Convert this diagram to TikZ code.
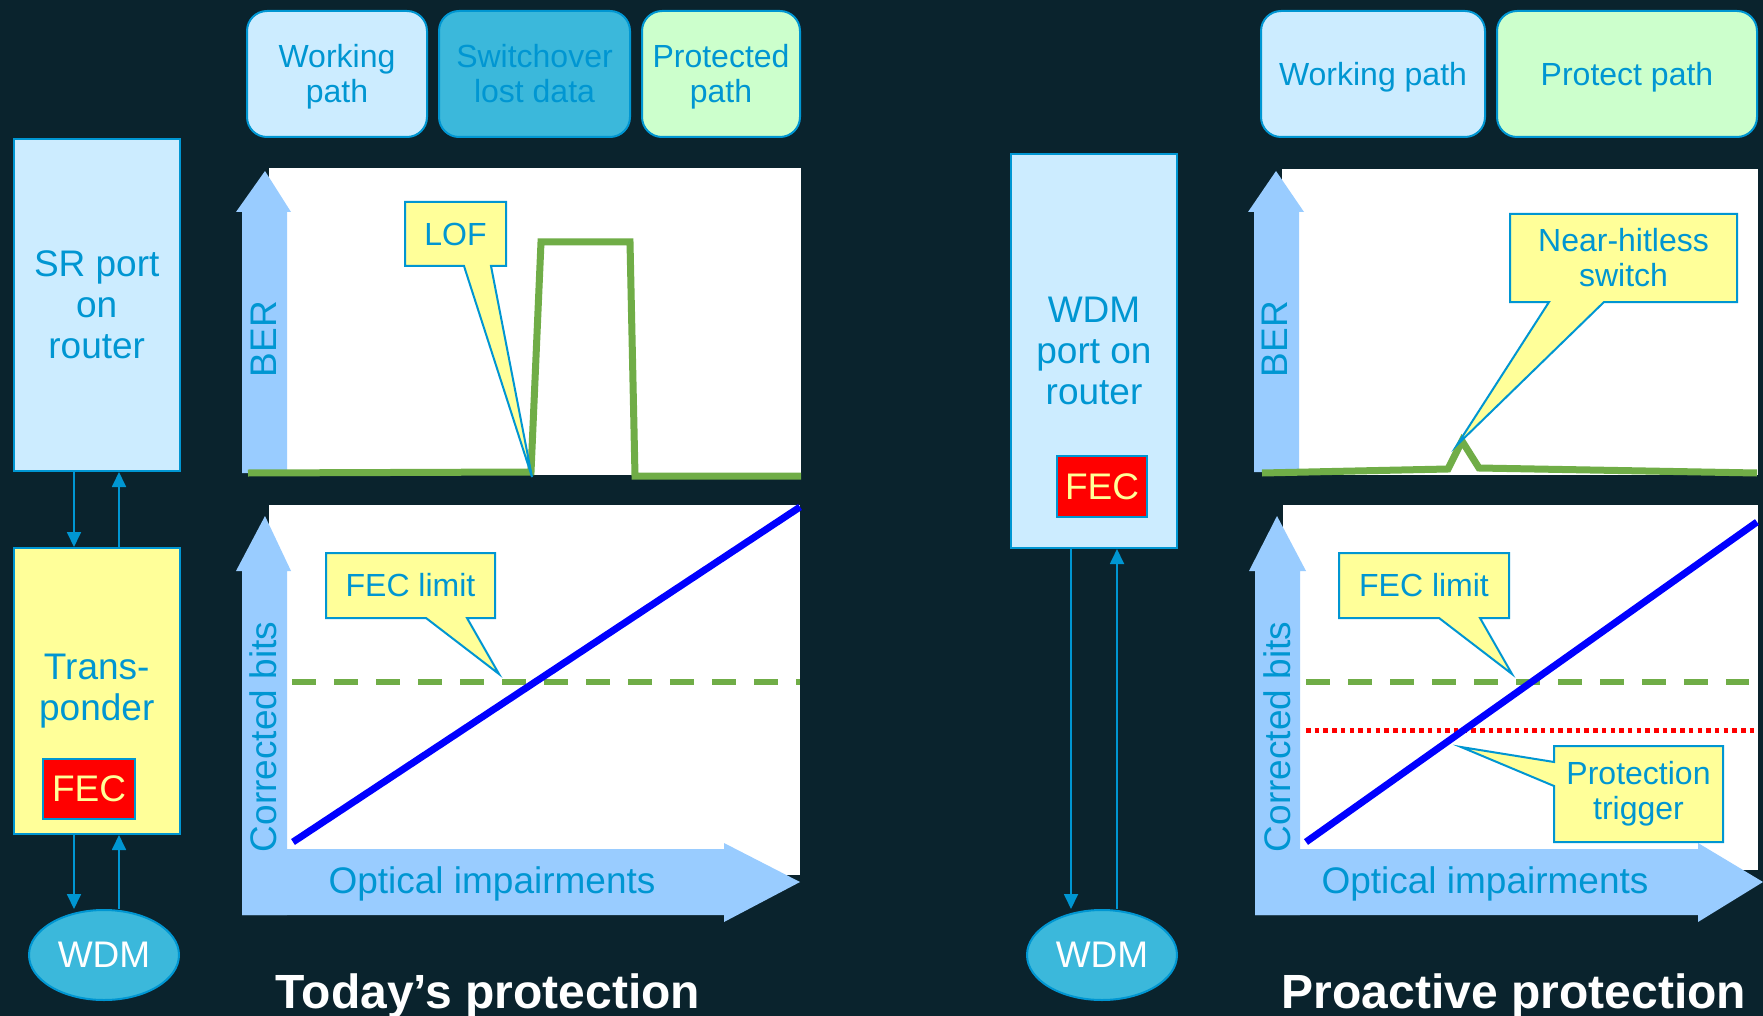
\documentclass[tikz,border=0pt]{standalone}
\usepackage{fontspec}
\usepackage{graphicx}
\setmainfont{Liberation Sans}
\usetikzlibrary{shapes.geometric,arrows.meta}

\definecolor{bgnavy}{RGB}{10,35,45}
\definecolor{inkblue}{RGB}{0,150,210}
\definecolor{paleblue}{RGB}{204,236,255}
\definecolor{cyanfill}{RGB}{59,184,219}
\definecolor{palegreen}{RGB}{204,255,204}
\definecolor{paleyellow}{RGB}{255,255,153}
\definecolor{axisblue}{RGB}{153,204,255}
\definecolor{curvegreen}{RGB}{112,173,71}

\newcommand\fbig{\fontsize{37}{41}\selectfont}
\newcommand\fmid{\fontsize{32}{35}\selectfont}
\newcommand\ftitle{\fontsize{48}{52}\selectfont\bfseries}
% legend captions sit slightly below the box centre
\newcommand\legtext[1]{\raisebox{-4.5pt}[\height][\depth]{\begin{tabular}{@{}c@{}}#1\end{tabular}}}

\tikzset{
  box/.style={draw=inkblue, line width=2pt, text=inkblue, align=center, inner sep=0pt},
  legend/.style={box, rounded corners=20pt, font=\fmid, minimum height=126pt},
  fecbox/.style={draw=inkblue, line width=1.5pt, fill=red, text=paleyellow, font=\fbig, inner sep=0pt},
  wdmnode/.style={ellipse, draw=inkblue, line width=2pt, fill=cyanfill, text=white, font=\fbig,
    minimum width=150pt, minimum height=90pt, inner sep=0pt},
  link/.style={draw=inkblue, line width=1.8pt, -{Triangle[length=15pt,width=14pt]}},
  plotarea/.style={fill=white},
  axisarrow/.style={fill=axisblue},
  axislabel/.style={text=inkblue, font=\fbig, inner sep=0pt},
  callout/.style={fill=paleyellow, draw=inkblue, line width=2pt, line join=miter},
  callouttext/.style={text=inkblue, font=\fmid, align=center, inner sep=0pt},
  bercurve/.style={draw=curvegreen, line width=7pt, line join=miter},
  feclimit/.style={draw=curvegreen, line width=6pt, dash pattern=on 24pt off 18pt},
  trigline/.style={draw=red, line width=5pt, dash pattern=on 4.5pt off 4.2pt},
  ramp/.style={draw=blue, line width=7pt},
  titletext/.style={text=white, font=\ftitle, inner sep=0pt, anchor=base}
}

\begin{document}
\begin{tikzpicture}[x=1pt, y=-1pt]
\useasboundingbox (0,0) rectangle (1763,1016);
\fill[bgnavy] (0,0) rectangle (1763,1016);

% ---------------- left side: today's protection ----------------
\node[box, fill=paleblue, font=\fbig, minimum width=166.5pt, minimum height=332pt]
  (sr) at (96.75,305) {SR port\\on\\router};
\node[box, fill=paleyellow, font=\fbig, minimum width=166.5pt, minimum height=286pt]
  (tp) at (96.75,691) {Trans-\\ponder};
\node[fecbox, minimum width=92pt, minimum height=60pt] (fecL) at (89,789) {FEC};
\node[wdmnode] (wdmL) at (104,955) {WDM};

\coordinate (dnL) at (74,0);
\coordinate (upL) at (119,0);
\draw[link] (sr.south -| dnL) -- (tp.north -| dnL);
\draw[link] (tp.north -| upL) -- (sr.south -| upL);
\draw[link] (tp.south -| dnL) -- (wdmL.north -| dnL);
\draw[link] (wdmL.north -| upL) -- (tp.south -| upL);

% legend
\node[legend, fill=paleblue, minimum width=180pt] (wpL) at (337,74) {\legtext{Working\\path}};
\node[legend, fill=cyanfill, minimum width=191pt] (soL) at (534.5,74) {\legtext{Switchover\\lost data}};
\node[legend, fill=palegreen, minimum width=158pt] (ppL) at (721,74) {\legtext{Protected\\path}};

% BER chart
\fill[plotarea] (269,168) rectangle (801,475);
\fill[axisarrow] (242,473) -- (242,212) -- (236,212) -- (265,171) -- (291,212)
  -- (287,212) -- (287,473) -- cycle;
\node[axislabel, rotate=90] (berL) at (264,339) {BER};
\draw[bercurve] (248,473) -- (531,472) -- (541,242) -- (630,242) -- (635,476) -- (801,476);
\draw[callout] (405,202) -- (506,202) -- (506,266) -- (491,266) -- (532,477)
  -- (464,266) -- (405,266) -- cycle;
\node[callouttext] (lof) at (455.5,234) {LOF};

% corrected bits chart
\fill[plotarea] (269,505) rectangle (800,875);
\fill[axisarrow] (242,915) -- (242,571) -- (236,571) -- (265,516) -- (291,571)
  -- (287,571) -- (287,915) -- cycle;
\fill[axisarrow] (242,849) -- (724,849) -- (724,843) -- (800,882) -- (724,922)
  -- (724,915) -- (242,915) -- cycle;
\node[axislabel, rotate=90] (cbL) at (263,737) {Corrected bits};
\node[axislabel, anchor=base] (oiL) at (492,893) {Optical impairments};
\draw[feclimit] (292,682) -- (800,682);
\draw[ramp] (293,842) -- (800,507);
\draw[callout] (326,553) -- (495,553) -- (495,618) -- (467,618) -- (499,674)
  -- (426,618) -- (326,618) -- cycle;
\node[callouttext] (flL) at (410.5,585.5) {FEC limit};

\node[titletext] (ttL) at (488,1008) {Today’s protection};

% ---------------- right side: proactive protection ----------------
\node[box, fill=paleblue, font=\fbig, minimum width=166pt, minimum height=394pt]
  (wp) at (1094,351) {WDM\\port on\\router};
\node[fecbox, minimum width=90pt, minimum height=61pt] (fecR) at (1102,486.5) {FEC};
\node[wdmnode] (wdmR) at (1102,955) {WDM};

\coordinate (dnR) at (1071,0);
\coordinate (upR) at (1117,0);
\draw[link] (wp.south -| dnR) -- (wdmR.north -| dnR);
\draw[link] (wdmR.north -| upR) -- (wp.south -| upR);

% legend
\node[legend, fill=paleblue, minimum width=224pt] (wpR) at (1373,74) {\legtext{Working path}};
\node[legend, fill=palegreen, minimum width=260pt] (ppR) at (1627,74) {\legtext{Protect path}};

% BER chart
\fill[plotarea] (1282,169) rectangle (1758,475);
\fill[axisarrow] (1254,472) -- (1254,212) -- (1248,212) -- (1276,171) -- (1304,212)
  -- (1299,212) -- (1299,472) -- cycle;
\node[axislabel, rotate=90] (berR) at (1275,339) {BER};
\draw[bercurve] (1262,473) -- (1448,469) -- (1462,441) -- (1479,468) -- (1757,473);
\draw[callout] (1510,214) -- (1737,214) -- (1737,302) -- (1604,302) -- (1457,445)
  -- (1549,302) -- (1510,302) -- cycle;
\node[callouttext] (nh) at (1623.5,258) {Near-hitless\\switch};

% corrected bits chart
\fill[plotarea] (1283,505) rectangle (1758,870);
\fill[axisarrow] (1255,915) -- (1255,571) -- (1249,571) -- (1277,516) -- (1306,571)
  -- (1300,571) -- (1300,915) -- cycle;
\fill[axisarrow] (1255,849) -- (1698,849) -- (1698,843) -- (1763,882) -- (1698,922)
  -- (1698,915) -- (1255,915) -- cycle;
\node[axislabel, rotate=90] (cbR) at (1277,737) {Corrected bits};
\node[axislabel, anchor=base] (oiR) at (1485,893) {Optical impairments};
\draw[feclimit] (1306,682) -- (1749,682);
\draw[trigline] (1306,730) -- (1757,730);
\draw[ramp] (1306,842) -- (1757,522);
\draw[callout] (1339,553) -- (1509,553) -- (1509,618) -- (1480,618) -- (1512,674)
  -- (1439,618) -- (1339,618) -- cycle;
\node[callouttext] (flR) at (1424,585.5) {FEC limit};
\draw[callout] (1554,746) -- (1723,746) -- (1723,842) -- (1554,842) -- (1554,786)
  -- (1461,747) -- (1554,762) -- cycle;
\node[callouttext] (pt) at (1638.5,794) {Protection\\trigger};

\node[titletext] (ttR) at (1514,1008) {Proactive protection};
\end{tikzpicture}
\end{document}
